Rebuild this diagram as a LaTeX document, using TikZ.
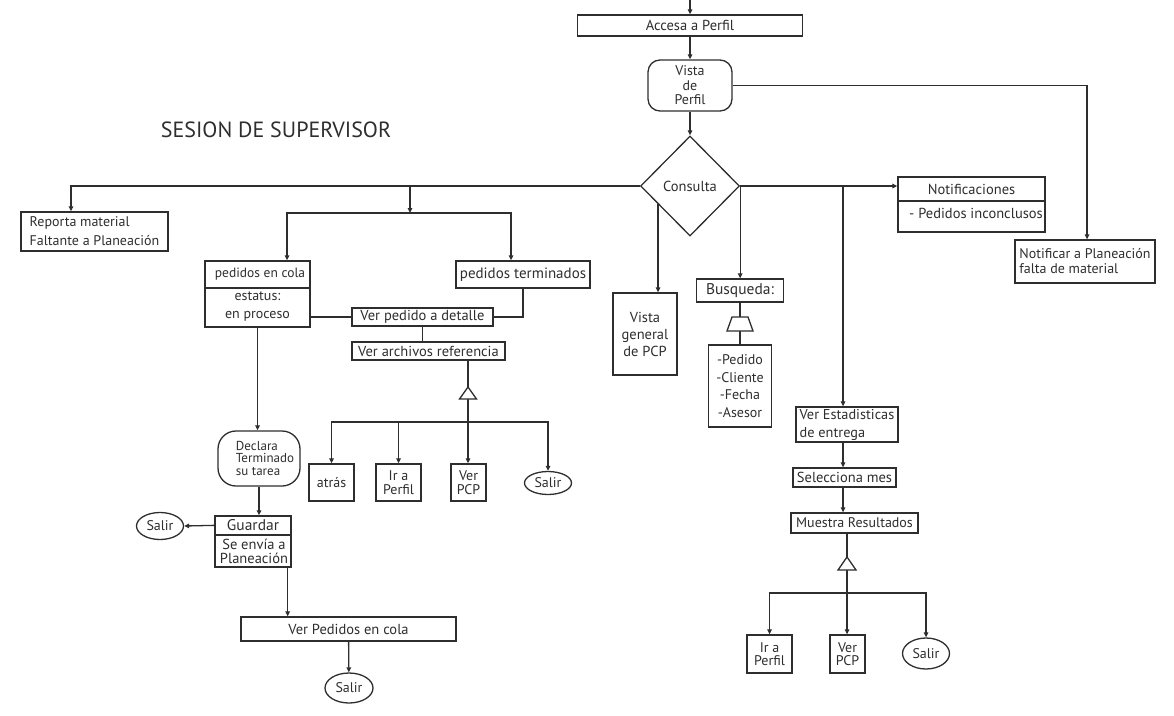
\documentclass[tikz,border=0pt]{standalone}
\usepackage{fontspec}
\setmainfont{PT Sans}
\usetikzlibrary{arrows.meta,shapes.geometric}
\definecolor{ink}{HTML}{2E2E2E}

\begin{document}
\begin{tikzpicture}[x=1pt,y=-1pt,
  every node/.style={text=ink},
  base/.style={font=\fontsize{14.5}{15}\selectfont},
  box/.style={draw=ink, line width=1.3pt, rectangle, inner sep=0pt, base, align=center},
  rbox/.style={box, rounded corners=12pt},
  oval/.style={draw=ink, line width=1.3pt, ellipse, inner sep=0pt, base},
  link/.style={draw=ink, line width=1.3pt},
  arr/.style={link, -{Triangle[length=5pt,width=4.5pt]}},
  lbl/.style={base, inner sep=0pt, align=center},
  twoline/.style={font=\fontsize{14}{13.5}\selectfont},
]
\useasboundingbox (0,0) rectangle (1174,715);

% title
\node[font=\fontsize{22}{26}\selectfont] (title) at (276,130) {SESION DE SUPERVISOR};

% main spine
\node[box, minimum width=225pt, minimum height=21pt] (acc) at (690,25.5) {Accesa a Perfil};
\node[rbox, minimum width=84pt, minimum height=51pt, font=\fontsize{14}{14.5}\selectfont] (vista) at (690,85.5) {Vista\\de\\Perfil};
\node[draw=ink, line width=1.3pt, diamond, minimum width=99pt, minimum height=100pt, inner sep=0pt, base] (consulta) at (690,186) {Consulta};

% left side
\node[box, minimum width=147pt, minimum height=39pt, align=left, font=\fontsize{14}{19}\selectfont] (reporta) at (94.5,231.5) {Reporta material\\Faltante a Planeación};

\node[box, minimum width=105pt, minimum height=66pt] (pcola) at (257.5,294) {};
\draw[link] (205,288) -- (310,288);
\node[lbl, font=\fontsize{13.5}{15}\selectfont] (pcolaT) at (260,274.5) {pedidos en cola};
\node[lbl, font=\fontsize{14}{18}\selectfont] (pcolaS) at (257.5,306.5) {estatus:\\en proceso};

\node[box, minimum width=134pt, minimum height=27pt, font=\fontsize{15}{16}\selectfont] (pterm) at (523,274.5) {pedidos terminados};
\node[box, minimum width=141pt, minimum height=18pt] (verdet) at (422.5,317) {Ver pedido a detalle};
\node[box, minimum width=153pt, minimum height=18pt] (verarch) at (428.5,351) {Ver archivos referencia};

\node[box, minimum width=45pt, minimum height=37pt, font=\fontsize{14}{15}\selectfont] (atras) at (331.5,482.5) {atrás};
\node[box, twoline, minimum width=45pt, minimum height=37pt] (irp1) at (398.5,482.5) {Ir a\\Perfil};
\node[box, twoline, minimum width=35pt, minimum height=37pt] (vpcp1) at (468.5,482.5) {Ver\\PCP};
\node[oval, minimum width=47pt, minimum height=23pt, font=\fontsize{14}{15}\selectfont] (salir1) at (548,483) {Salir};

\node[rbox, rounded corners=18pt, minimum width=82pt, minimum height=55pt] (declara) at (259,458.5) {};
\node[lbl, align=left, font=\fontsize{13}{12.5}\selectfont] (declaraT) at (265,458) {Declara\\Terminado\\su tarea};

\node[box, minimum width=76pt, minimum height=51pt] (guardar) at (253,541.5) {};
\draw[link] (215,535) -- (291,535);
\node[lbl, font=\fontsize{15.5}{16}\selectfont] (guardarT) at (253,525.5) {Guardar};
\node[lbl, font=\fontsize{14.5}{13.5}\selectfont] (guardarS) at (254,551.5) {Se envía a\\Planeación};
\node[oval, minimum width=47pt, minimum height=27pt, font=\fontsize{14}{15}\selectfont] (salir2) at (160,526) {Salir};

\node[box, minimum width=215pt, minimum height=24pt] (verped) at (348.5,629) {Ver Pedidos en cola};
\node[oval, minimum width=48pt, minimum height=30pt, font=\fontsize{14}{15}\selectfont] (salir3) at (349,688) {Salir};

% middle
\node[box, minimum width=64pt, minimum height=82pt, font=\fontsize{14.5}{17}\selectfont] (vgen) at (645,334) {Vista\\general\\de PCP};
\node[box, minimum width=87pt, minimum height=23pt, font=\fontsize{15.5}{16}\selectfont] (busq) at (740,290.5) {Busqueda:};
\node[box, minimum width=63pt, minimum height=82pt, font=\fontsize{14}{17.6}\selectfont] (blist) at (740,386) {-Pedido\\-Cliente\\-Fecha\\-Asesor};

% right side
\node[box, minimum width=147pt, minimum height=55pt] (notif) at (971.5,204.5) {};
\draw[link] (898,201) -- (1045,201);
\node[lbl] (notifT) at (971.5,189) {Notificaciones};
\node[lbl, anchor=west] (notifS) at (909,213) {- Pedidos inconclusos};

\node[box, minimum width=140pt, minimum height=43pt, align=left, font=\fontsize{14}{15}\selectfont] (notificar) at (1085,261.5) {Notificar a Planeación\\falta de material};

\node[box, minimum width=102pt, minimum height=35pt, align=left, font=\fontsize{14.3}{18}\selectfont] (verest) at (847,424.5) {Ver Estadisticas\\de entrega};
\node[box, minimum width=103pt, minimum height=19pt] (selmes) at (844.5,477.5) {Selecciona mes};
\node[box, minimum width=127pt, minimum height=20pt, font=\fontsize{14}{15}\selectfont] (muestra) at (854.5,523) {Muestra Resultados};
\node[box, twoline, minimum width=45pt, minimum height=38pt] (irp2) at (769.5,654) {Ir a\\Perfil};
\node[box, twoline, minimum width=35pt, minimum height=38pt] (vpcp2) at (847.5,654) {Ver\\PCP};
\node[oval, minimum width=47pt, minimum height=31pt, font=\fontsize{14}{15}\selectfont] (salir4) at (926,653.5) {Salir};

% connectors: spine
\coordinate (top) at (690,0);
\draw[arr] (top) -- (acc.north);
\draw[arr] (acc) -- (vista);
\draw[arr] (vista) -- (consulta);
\draw[arr] (vista.east) -| ([xshift=2pt]notificar.north);

% connectors: left branch
\draw[arr] (consulta.west) -| ([xshift=-23.5pt]reporta.north);
\coordinate (b1) at (410,186);
\coordinate (h1) at (410,213);
\draw[arr] (b1) -- (h1);
\draw[arr] (h1) -| ([xshift=29.5pt]pcola.north);
\draw[arr] (h1) -| ([xshift=-12pt]pterm.north);
\draw[link] (pcola.east |- verdet) -- (verdet.west);
\draw[link] (pterm.south) |- (verdet.east);
\draw[link] (verdet.south) -- (verdet.south |- verarch.north);
\coordinate (j1) at (468,422);
\draw[link] (verarch.south -| j1) -- (j1);
\draw[link, fill=white] (468,387) -- (476.5,399) -- (459.5,399) -- cycle;
\draw[arr] (j1) -| (atras.north);
\draw[arr] (j1) -| (irp1.north);
\draw[arr] (j1) -- (j1 |- vpcp1.north);
\draw[arr] (j1) -| (salir1.north);

\draw[arr] (pcola.south) -- (pcola.south |- declara.north);
\draw[arr] (declara.south) -- (declara.south |- guardar.north);
\draw[arr] ([yshift=-10pt]guardar.north west) -- (salir2.east);
\coordinate (gq) at ([xshift=-4pt]guardar.south east);
\draw[arr] (gq) -- (gq |- verped.north);
\draw[arr] (verped) -- (salir3);

% connectors: middle
\coordinate (cq) at (658,204);
\draw[arr] (cq) -- (cq |- vgen.north);
\draw[arr] (consulta.east) -- (consulta.east |- busq.north);
\draw[link] (busq) -- (blist);
\draw[link, fill=white] (732,317) -- (748,317) -- (753,331) -- (727,331) -- cycle;

% connectors: right branch
\draw[arr] (consulta.east) -- (consulta.east -| notif.west);
\coordinate (b2) at (843,186);
\draw[arr] (b2) -- (b2 |- verest.north);
\draw[arr] (verest.south -| b2) -- (b2 |- selmes.north);
\draw[arr] (selmes.south -| b2) -- (b2 |- muestra.north);
\coordinate (j2) at (847,593);
\draw[link] (muestra.south -| j2) -- (j2);
\draw[link, fill=white] (847,557) -- (856,570) -- (838,570) -- cycle;
\draw[arr] (j2) -| (irp2.north);
\draw[arr] (j2) -- (j2 |- vpcp2.north);
\draw[arr] (j2) -| (salir4.north);
\end{tikzpicture}
\end{document}
